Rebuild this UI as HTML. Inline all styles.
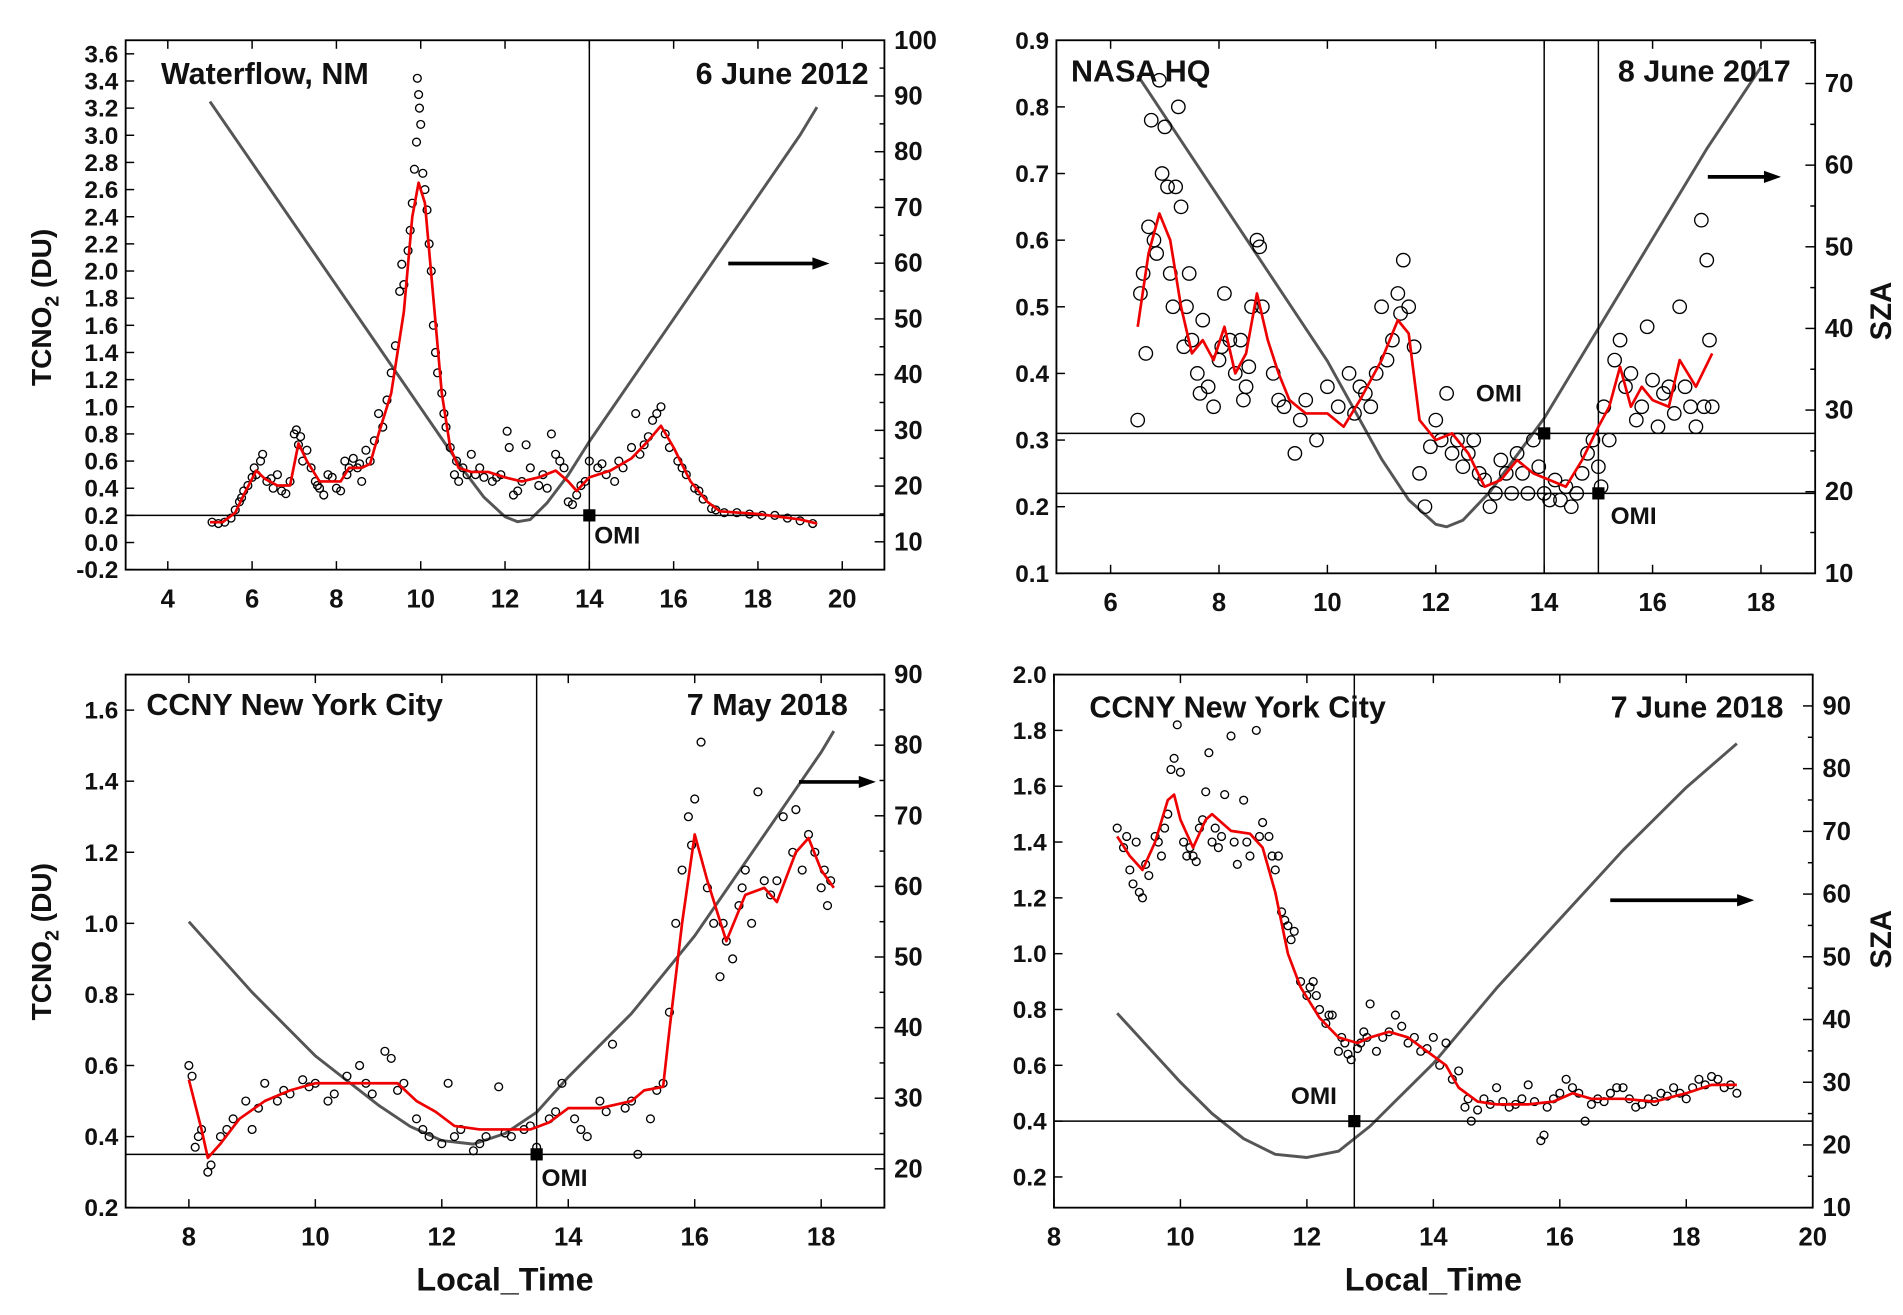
<!DOCTYPE html>
<html><head><meta charset="utf-8">
<style>
html,body{margin:0;padding:0;background:#fff;}
svg{display:block;}
text{font-family:"Liberation Sans",Arial,sans-serif;font-weight:bold;fill:#111;}
</style></head>
<body>
<svg id="chart" xmlns="http://www.w3.org/2000/svg" width="1903" height="1315" viewBox="0 0 1560 1078" preserveAspectRatio="none"></svg>
<script>
// ---------- DATA ----------
const p1Scatter = [[5.05,.15],[5.2,.14],[5.35,.15],[5.5,.18],[5.6,.24],[5.7,.3],[5.8,.38],[5.9,.42],[6.0,.48],[6.1,.5],[6.2,.6],[6.25,.65],[6.35,.45],[6.5,.4],[6.6,.5],[6.7,.38],[6.8,.36],[6.9,.45],[7.0,.8],[7.05,.83],[7.15,.78],[7.2,.6],[7.3,.68],[7.4,.55],[7.5,.45],[7.6,.4],[7.7,.35],[7.8,.5],[7.9,.48],[8.0,.4],[8.1,.38],[8.2,.6],[8.3,.55],[8.4,.62],[8.5,.55],[8.6,.45],[8.7,.68],[8.8,.6],[8.9,.75],[9.0,.95],[9.1,.85],[9.2,1.05],[9.3,1.25],[9.4,1.45],[9.5,1.85],[9.55,2.05],[9.6,1.9],[9.7,2.15],[9.75,2.3],[9.8,2.5],[9.85,2.75],[9.9,2.95],[9.92,3.42],[9.95,3.3],[9.97,3.2],[10.0,3.08],[10.05,2.72],[10.1,2.6],[10.15,2.45],[10.2,2.2],[10.25,2.0],[10.3,1.6],[10.35,1.4],[10.4,1.25],[10.5,1.1],[10.55,0.95],[10.6,0.85],[10.7,0.7],[10.8,0.5],[10.9,0.45],[11.0,0.55],[11.2,0.65],[11.3,0.5],[11.5,0.48],[11.7,0.45],[11.9,0.5],[12.05,0.82],[12.1,0.7],[12.2,0.35],[12.3,0.38],[12.5,0.72],[12.6,0.55],[12.8,0.42],[13.0,0.4],[13.1,0.8],[13.2,0.65],[13.3,0.6],[13.4,0.55],[13.5,0.3],[13.6,0.28],[13.7,0.35],[13.9,0.45],[14.0,0.6],[14.2,0.55],[14.4,0.5],[14.6,0.45],[14.8,0.55],[15.0,0.7],[15.1,0.95],[15.2,0.65],[15.4,0.78],[15.5,0.9],[15.6,0.95],[15.7,1.0],[15.8,0.8],[15.9,0.7],[16.1,0.6],[16.3,0.5],[16.5,0.4],[16.7,0.32],[16.9,0.25],[17.2,0.22],[17.5,0.22],[17.8,0.21],[18.1,0.2],[18.4,0.2],[18.7,0.18],[19.0,0.16],[19.3,0.14],[5.75,.33],[6.05,.55],[6.45,.47],[7.1,.72],[7.55,.42],[8.25,.5],[8.55,.58],[10.85,.6],[11.1,.5],[11.4,.55],[11.8,.48],[12.4,.45],[12.9,.5],[13.8,.42],[14.3,.58],[14.7,.6],[15.3,.72],[16.2,.55],[16.6,.38],[17.0,.24]];
const p1Smooth = [[5,.15],[5.3,.15],[5.6,.22],[5.8,.35],[6.1,.53],[6.3,.47],[6.6,.42],[6.9,.42],[7.1,.73],[7.3,.6],[7.6,.45],[7.8,.45],[8.1,.45],[8.3,.55],[8.6,.55],[8.8,.58],[9.0,.8],[9.3,1.1],[9.6,1.7],[9.8,2.4],[9.95,2.65],[10.1,2.5],[10.3,1.8],[10.5,1.1],[10.7,.7],[10.9,.55],[11.2,.52],[11.6,.52],[12.0,.48],[12.4,.45],[12.8,.48],[13.2,.53],[13.5,.45],[13.7,.38],[14.0,.48],[14.5,.53],[15.0,.62],[15.4,.75],[15.7,.86],[16.0,.7],[16.4,.45],[16.8,.3],[17.1,.23],[18,.21],[19,.17],[19.4,.14]];
const p1Sza = [[5,89],[6,78],[7,67],[8,56],[9,45],[10,34],[11,23],[11.5,18],[12,14.5],[12.3,13.6],[12.6,14],[13,17],[13.5,22],[14,28],[15,39],[16,50],[17,61],[18,72],[19,83],[19.4,88]];

const p2Scatter = [[6.5,.33],[6.55,.52],[6.6,.55],[6.7,.62],[6.75,.78],[6.8,.6],[6.85,.58],[6.9,.84],[6.95,.7],[7.0,.77],[7.05,.68],[7.1,.55],[7.15,.5],[7.2,.68],[7.25,.8],[7.3,.65],[7.4,.5],[7.5,.45],[7.6,.4],[7.7,.48],[7.8,.38],[7.9,.35],[8.0,.42],[8.1,.52],[8.2,.45],[8.3,.4],[8.4,.45],[8.5,.38],[8.6,.5],[8.7,.6],[8.75,.59],[8.8,.5],[9.0,.4],[9.2,.35],[9.4,.28],[9.6,.36],[9.8,.3],[10.0,.38],[10.2,.35],[10.4,.4],[10.6,.38],[10.8,.35],[11.0,.5],[11.2,.45],[11.3,.52],[11.4,.57],[11.5,.5],[11.6,.44],[11.7,.25],[11.8,.2],[12.0,.33],[12.2,.37],[12.4,.3],[12.6,.28],[12.8,.25],[13.0,.2],[13.2,.27],[13.4,.22],[13.6,.25],[13.8,.3],[14.0,.22],[14.2,.24],[14.3,.21],[14.5,.2],[14.7,.25],[14.9,.3],[15.1,.35],[15.3,.42],[15.4,.45],[15.6,.4],[15.8,.35],[15.9,.47],[16.1,.32],[16.3,.38],[16.5,.5],[16.7,.35],[16.9,.63],[16.8,.32],[17.0,.57],[17.05,.45],[17.1,.35],
[6.65,.43],[7.35,.44],[7.45,.55],[7.65,.37],[8.05,.44],[8.45,.36],[8.55,.41],[9.1,.36],[9.5,.33],[10.5,.34],[10.7,.37],[10.9,.4],[11.1,.42],[11.35,.49],[11.9,.29],[12.1,.3],[12.3,.28],[12.5,.26],[12.7,.3],[12.9,.24],[13.1,.22],[13.3,.25],[13.5,.28],[13.7,.22],[13.9,.26],[14.1,.21],[14.4,.23],[14.6,.22],[14.8,.28],[15.0,.26],[15.05,.23],[15.2,.3],[15.5,.38],[15.7,.33],[16.0,.39],[16.2,.37],[16.4,.34],[16.6,.38],[16.95,.35]];
const p2Smooth = [[6.5,.47],[6.7,.58],[6.9,.64],[7.1,.6],[7.3,.5],[7.5,.43],[7.7,.45],[7.9,.42],[8.1,.47],[8.3,.4],[8.5,.43],[8.7,.52],[8.9,.45],[9.1,.4],[9.3,.36],[9.6,.34],[10.0,.34],[10.3,.32],[10.6,.36],[11.0,.42],[11.3,.48],[11.5,.46],[11.7,.33],[12.0,.3],[12.3,.31],[12.6,.28],[12.9,.23],[13.2,.24],[13.5,.27],[13.8,.25],[14.1,.24],[14.4,.23],[14.7,.27],[15.0,.32],[15.2,.35],[15.4,.41],[15.6,.35],[15.8,.38],[16.0,.36],[16.3,.35],[16.5,.42],[16.8,.38],[17.1,.43]];
const p2Sza = [[6.5,71],[7,66],[8,56],[9,46],[10,36],[10.5,30],[11,24],[11.5,19],[12,16],[12.2,15.7],[12.5,16.5],[13,20],[14,29],[15,40],[16,51],[17,62],[18,72]];

const p3Scatter = [[8.0,.6],[8.05,.57],[8.1,.37],[8.2,.42],[8.3,.3],[8.35,.32],[8.5,.4],[8.7,.45],[8.9,.5],[9.0,.42],[9.2,.55],[9.4,.5],[9.6,.52],[9.8,.56],[10.0,.55],[10.2,.5],[10.5,.57],[10.7,.6],[10.9,.52],[11.1,.64],[11.2,.62],[11.4,.55],[11.6,.45],[11.8,.4],[12.0,.38],[12.1,.55],[12.3,.42],[12.5,.36],[12.7,.4],[12.9,.54],[13.1,.4],[13.3,.42],[13.5,.37],[13.7,.45],[13.9,.55],[14.1,.45],[14.3,.4],[14.5,.5],[14.7,.66],[14.9,.48],[15.1,.35],[15.3,.45],[15.5,.55],[15.6,.75],[15.7,1.0],[15.8,1.15],[15.9,1.3],[16.0,1.35],[16.1,1.51],[16.2,1.1],[16.3,1.0],[16.4,.85],[16.5,.95],[16.6,.9],[16.7,1.05],[16.8,1.15],[16.9,1.0],[17.0,1.37],[17.1,1.12],[17.2,1.08],[17.4,1.3],[17.6,1.32],[17.7,1.15],[17.8,1.25],[17.9,1.2],[18.0,1.1],[18.1,1.05],[18.15,1.12],
[8.15,.4],[8.6,.42],[9.1,.48],[9.5,.53],[9.9,.54],[10.3,.52],[10.8,.55],[11.3,.53],[11.7,.42],[12.2,.4],[12.6,.38],[13.0,.41],[13.4,.43],[13.8,.47],[14.2,.42],[14.6,.47],[15.0,.5],[15.4,.53],[15.95,1.22],[16.45,1.0],[16.75,1.1],[17.3,1.12],[17.55,1.2],[18.05,1.15]];
const p3Smooth = [[8.0,.56],[8.2,.42],[8.3,.34],[8.5,.38],[8.8,.45],[9.2,.5],[9.6,.53],[10,.55],[10.5,.55],[11,.55],[11.3,.55],[11.6,.5],[11.9,.47],[12.2,.43],[12.6,.42],[13.0,.42],[13.4,.42],[13.7,.44],[14.0,.48],[14.5,.48],[15.0,.5],[15.2,.53],[15.5,.54],[15.6,.7],[15.8,1.0],[16.0,1.25],[16.2,1.12],[16.5,.95],[16.8,1.08],[17.1,1.1],[17.3,1.06],[17.6,1.2],[17.8,1.24],[18.0,1.15],[18.2,1.1]];
const p3Sza = [[8,55],[9,45],[10,36],[11,29],[11.5,26],[12,24],[12.5,23.5],[13,25],[13.5,28],[14,33],[15,42],[16,53],[17,66],[18,79],[18.2,82]];

const p4Scatter = [[9.0,1.45],[9.1,1.38],[9.2,1.3],[9.3,1.4],[9.35,1.22],[9.4,1.2],[9.5,1.28],[9.6,1.42],[9.7,1.35],[9.8,1.5],[9.85,1.66],[9.9,1.7],[9.95,1.82],[10.0,1.65],[10.05,1.4],[10.1,1.35],[10.2,1.35],[10.3,1.45],[10.4,1.58],[10.45,1.72],[10.5,1.4],[10.6,1.38],[10.7,1.57],[10.8,1.78],[10.9,1.32],[11.0,1.55],[11.1,1.35],[11.2,1.8],[11.3,1.47],[11.4,1.42],[11.5,1.3],[11.55,1.35],[11.6,1.15],[11.7,1.1],[11.8,1.08],[11.9,.9],[12.0,.85],[12.1,.9],[12.2,.8],[12.3,.75],[12.4,.78],[12.5,.65],[12.6,.68],[12.7,.62],[12.8,.66],[12.9,.72],[13.0,.82],[13.1,.65],[13.3,.72],[13.4,.78],[13.6,.68],[13.8,.65],[14.0,.7],[14.1,.6],[14.2,.68],[14.3,.55],[14.5,.45],[14.6,.4],[14.8,.48],[15.0,.52],[15.2,.45],[15.4,.48],[15.5,.53],[15.7,.33],[15.75,.35],[15.9,.48],[16.1,.55],[16.2,.52],[16.4,.4],[16.6,.48],[16.8,.5],[17.0,.52],[17.2,.45],[17.4,.48],[17.6,.5],[17.8,.52],[18.0,.48],[18.2,.55],[18.4,.56],[18.6,.52],[18.8,.5],
[9.15,1.42],[9.25,1.25],[9.45,1.32],[9.65,1.4],[9.75,1.45],[10.15,1.38],[10.25,1.33],[10.35,1.48],[10.55,1.45],[10.65,1.42],[10.85,1.4],[11.05,1.4],[11.25,1.42],[11.45,1.35],[11.65,1.12],[11.75,1.05],[12.05,.88],[12.15,.85],[12.35,.78],[12.55,.7],[12.65,.64],[12.85,.68],[12.95,.7],[13.2,.7],[13.5,.74],[13.7,.7],[13.9,.66],[14.4,.58],[14.55,.48],[14.7,.44],[14.9,.46],[15.1,.47],[15.3,.46],[15.6,.47],[15.8,.45],[16.0,.5],[16.3,.5],[16.5,.46],[16.7,.47],[16.9,.52],[17.1,.48],[17.3,.46],[17.5,.47],[17.7,.49],[17.9,.5],[18.1,.52],[18.3,.53],[18.5,.55],[18.7,.53]];
const p4Smooth = [[9.0,1.42],[9.2,1.35],[9.4,1.3],[9.6,1.4],[9.8,1.55],[9.9,1.57],[10.0,1.48],[10.2,1.38],[10.4,1.48],[10.5,1.5],[10.8,1.44],[11.1,1.43],[11.3,1.38],[11.5,1.22],[11.7,1.0],[11.9,.88],[12.2,.77],[12.5,.7],[12.8,.68],[13.0,.7],[13.3,.72],[13.6,.7],[13.9,.65],[14.2,.6],[14.4,.52],[14.7,.47],[15.0,.46],[15.5,.46],[15.9,.47],[16.2,.5],[16.5,.48],[17,.48],[17.5,.47],[18,.5],[18.4,.53],[18.8,.53]];
const p4Sza = [[9,41],[10,30],[10.5,25],[11,21],[11.5,18.5],[12,18],[12.5,19],[13,23],[14,33],[15,45],[16,56],[17,67],[18,77],[18.8,84]];

const p1XTicks=[4,6,8,10,12,14,16,18,20];
const p1YTicks=[-0.2,0,0.2,0.4,0.6,0.8,1.0,1.2,1.4,1.6,1.8,2.0,2.2,2.4,2.6,2.8,3.0,3.2,3.4,3.6];
const p1RTicks=[10,20,30,40,50,60,70,80,90,100];
const p2XTicks=[6,8,10,12,14,16,18];
const p2YTicks=[0.1,0.2,0.3,0.4,0.5,0.6,0.7,0.8,0.9];
const p2RTicks=[10,20,30,40,50,60,70];
const p3XTicks=[8,10,12,14,16,18];
const p3YTicks=[0.2,0.4,0.6,0.8,1.0,1.2,1.4,1.6];
const p3RTicks=[20,30,40,50,60,70,80,90];
const p4XTicks=[8,10,12,14,16,18,20];
const p4YTicks=[0.2,0.4,0.6,0.8,1.0,1.2,1.4,1.6,1.8,2.0];
const p4RTicks=[10,20,30,40,50,60,70,80,90];

// ---------- DRAW ----------
const NS='http://www.w3.org/2000/svg';
const svg=document.getElementById('chart');
function mk(tag,attrs,parent,text){const e=document.createElementNS(NS,tag);for(const k in attrs)e.setAttribute(k,attrs[k]);if(text!==undefined)e.textContent=text;(parent||svg).appendChild(e);return e;}

function panel(cfg){
  const g=mk('g',{});
  
  
  const L=cfg.box[0],T=cfg.box[1],R=cfg.box[2],B=cfg.box[3];
  const xs=v=>L+(v-cfg.xd[0])/(cfg.xd[1]-cfg.xd[0])*(R-L);
  const ys=v=>B-(v-cfg.yd[0])/(cfg.yd[1]-cfg.yd[0])*(B-T);
  const rs=v=>B-(v-cfg.rd[0])/(cfg.rd[1]-cfg.rd[0])*(B-T);
  cfg.xt.forEach(v=>{
    const x=xs(v);
    const t1=mk('line',{x1:x,y1:B,x2:x,y2:B-7,stroke:'#000','stroke-width':1.2},g);
    
    
    mk('line',{x1:x,y1:T,x2:x,y2:T+7,stroke:'#000','stroke-width':1.2},g);
    const lb=mk('text',{x:x,y:B+31,'text-anchor':'middle','font-size':21},g,String(v));
    
    
  });
  cfg.yt.forEach(v=>{
    const y=ys(v);
    mk('line',{x1:L,y1:y,x2:L+7,y2:y,stroke:'#000','stroke-width':1.2},g);
    const lb=mk('text',{x:L-6,y:y+7,'text-anchor':'end','font-size':20},g,v.toFixed(1));
    
    
  });
  cfg.rt.forEach(v=>{
    const y=rs(v);
    mk('line',{x1:R,y1:y,x2:R-8,y2:y,stroke:'#000','stroke-width':1.2},g);
    const ym=rs(v+5);
    if(ym>=T) mk('line',{x1:R,y1:ym,x2:R-4,y2:ym,stroke:'#000','stroke-width':1.2},g);
    const lb=mk('text',{x:R+8,y:y+7,'text-anchor':'start','font-size':21},g,String(v));
    
    
  });
  const sz=mk('polyline',{points:cfg.sza.map(p=>xs(p[0])+','+rs(p[1])).join(' '),fill:'none',stroke:'#555','stroke-width':2.4,'stroke-linejoin':'round'},g);
  
  
  cfg.hl.forEach(v=>{
    const l=mk('line',{x1:L,y1:ys(v),x2:R,y2:ys(v),stroke:'#000','stroke-width':1.2},g);
    
    
  });
  cfg.vl.forEach(v=>{
    const l=mk('line',{x1:xs(v),y1:T,x2:xs(v),y2:B,stroke:'#000','stroke-width':1.2},g);
    
    
  });
  cfg.sc.forEach(p=>{
    const c=mk('circle',{cx:xs(p[0]),cy:ys(p[1]),r:cfg.r,fill:'none',stroke:'#000','stroke-width':1.1},g);
    
    
  });
  const sm=mk('polyline',{points:cfg.sm.map(p=>xs(p[0])+','+ys(p[1])).join(' '),fill:'none',stroke:'#e00','stroke-width':2.2,'stroke-linejoin':'round'},g);
  
  
  cfg.omi.forEach(o=>{
    const s=mk('rect',{x:xs(o[0])-5,y:ys(o[1])-5,width:10,height:10,fill:'#000'},g);
    
    
    const t=mk('text',{x:xs(o[0])+o[2],y:ys(o[1])+o[3],'font-size':20},g,'OMI');
    
    
  });
  const f=mk('rect',{x:L,y:T,width:R-L,height:B-T,fill:'none',stroke:'#000','stroke-width':1.5},g);
  
  
  const a=cfg.arrow;
  mk('line',{x1:a[0],y1:a[2],x2:a[1]-10,y2:a[2],stroke:'#000','stroke-width':3},g);
  const ah=mk('polygon',{points:(a[1]-14)+','+(a[2]-5)+' '+a[1]+','+a[2]+' '+(a[1]-14)+','+(a[2]+5),fill:'#000'},g);
  
  
  const t1=mk('text',{x:cfg.site[0],y:cfg.site[1],'font-size':25},g,cfg.site[2]);
  
  
  const t2=mk('text',{x:cfg.date[0],y:cfg.date[1],'font-size':25,'text-anchor':'end'},g,cfg.date[2]);
  
  
}

panel({name:'panel-waterflow',box:[103,33,725,467],xd:[3,21],yd:[-0.2,3.7],rd:[5,100],
  xt:p1XTicks,yt:p1YTicks,rt:p1RTicks,sza:p1Sza,sc:p1Scatter,sm:p1Smooth,r:3.2,
  hl:[0.2],vl:[14],omi:[[14,0.2,4,23]],arrow:[597,680,216],
  site:[132,69,'Waterflow, NM'],date:[712,69,'6 June 2012']});
panel({name:'panel-nasa-hq',box:[866,33,1488,470],xd:[5,19],yd:[0.1,0.9],rd:[10,75.3],
  xt:p2XTicks,yt:p2YTicks,rt:p2RTicks,sza:p2Sza,sc:p2Scatter,sm:p2Smooth,r:5.5,
  hl:[0.31,0.22],vl:[14,15],omi:[[14,0.31,-56,-26],[15,0.22,10,25]],arrow:[1400,1460,145],
  site:[878,67,'NASA HQ'],date:[1468,67,'8 June 2017']});
panel({name:'panel-ccny-may',box:[103,553,725,990],xd:[7,19],yd:[0.2,1.7],rd:[14.5,90],
  xt:p3XTicks,yt:p3YTicks,rt:p3RTicks,sza:p3Sza,sc:p3Scatter,sm:p3Smooth,r:3.2,
  hl:[0.35],vl:[13.5],omi:[[13.5,0.35,4,26]],arrow:[655,718,641],
  site:[120,586,'CCNY New York City'],date:[695,586,'7 May 2018']});
panel({name:'panel-ccny-june',box:[864,553,1486,990],xd:[8,20],yd:[0.09,2.0],rd:[10,95],
  xt:p4XTicks,yt:p4YTicks,rt:p4RTicks,sza:p4Sza,sc:p4Scatter,sm:p4Smooth,r:3.2,
  hl:[0.4],vl:[12.75],omi:[[12.75,0.4,-52,-14]],arrow:[1320,1438,738],
  site:[893,588,'CCNY New York City'],date:[1462,588,'7 June 2018']});

function ylab(x,y,name){
  const t=mk('text',{x:0,y:0,'font-size':23,'text-anchor':'middle',transform:'translate('+x+','+y+') rotate(-90)'});
  
  
  t.appendChild(document.createTextNode('TCNO'));
  mk('tspan',{'font-size':16,dy:6},t,'2');
  mk('tspan',{dy:-6},t,' (DU)');
}
ylab(42,252,'left-y-axis-title-top');
ylab(42,772,'left-y-axis-title-bottom');
function szalab(x,y,name){
  const t=mk('text',{x:0,y:0,'font-size':24,'text-anchor':'middle',transform:'translate('+x+','+y+') rotate(-90)'},svg,'SZA');
  
  
}
szalab(1550,255,'right-y-axis-title-top');
szalab(1550,770,'right-y-axis-title-bottom');
const xl1=mk('text',{x:414,y:1058,'font-size':26.5,'text-anchor':'middle'},svg,'Local_Time');


const xl2=mk('text',{x:1175,y:1058,'font-size':26.5,'text-anchor':'middle'},svg,'Local_Time');


</script>
</body></html>
